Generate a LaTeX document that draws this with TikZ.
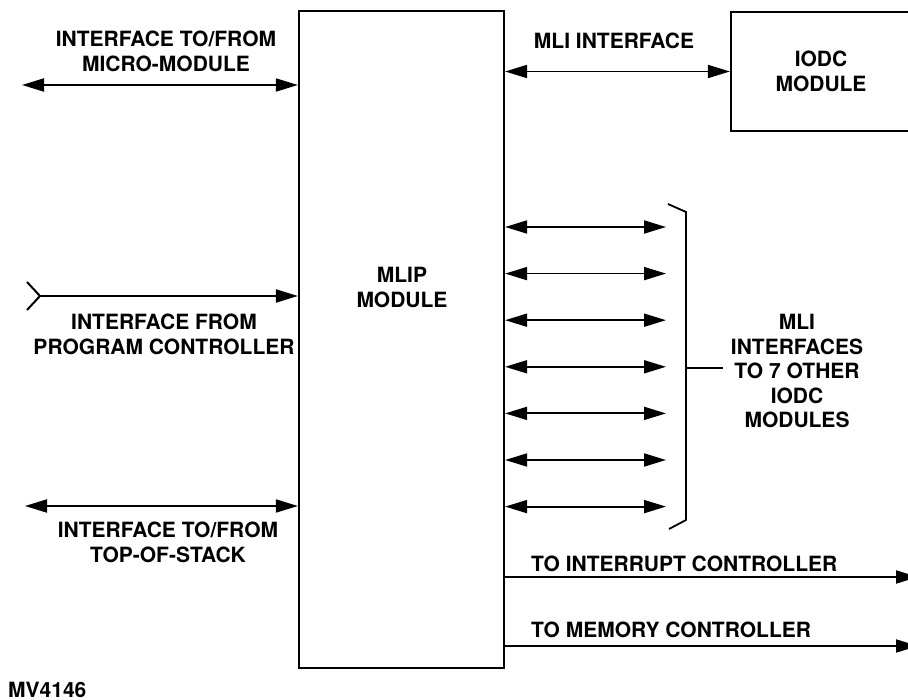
\documentclass[tikz,border=0pt]{standalone}
\usepackage{fontspec}
\setmainfont{TeX Gyre Heros}
\usetikzlibrary{arrows.meta,positioning,calc}

\begin{document}
\begin{tikzpicture}[x=1pt, y=-1pt,
  box/.style={draw, line width=2.2pt, inner sep=0pt},
  biarr/.style={{Triangle[length=22pt,width=13pt]}-{Triangle[length=22pt,width=13pt]}, line width=1.8pt},
  arr/.style={-{Triangle[length=22pt,width=13pt]}, line width=1.8pt},
  lab/.style={font=\fontsize{21}{25}\selectfont\bfseries, align=center, inner sep=0pt}
]
\useasboundingbox (0,0) rectangle (908,700);
% modules
\node[box, minimum width=205pt, minimum height=657pt] (mlip) at (401.5,339.5) {};
\node[lab] (mliptxt) at (402,287) {MLIP\\MODULE};
\node[box, lab, minimum width=180pt, minimum height=119pt] (iodc) at (821,71.5) {IODC\\MODULE};
% left side interfaces
\coordinate (mmL) at (22,85);
\coordinate (pcL) at (26,296);
\coordinate (tsL) at (25,506);
\draw[biarr] (mmL) -- (mmL -| mlip.west);
\draw[{Straight Barb[reversed,length=13pt,width=28pt]}-{Triangle[length=22pt,width=13pt]}, line width=2pt] (pcL) -- (pcL -| mlip.west);
\draw[biarr] (tsL) -- (tsL -| mlip.west);
\node[lab] (mmtxt) at (166,51) {INTERFACE TO/FROM\\MICRO-MODULE};
\node[lab] (pctxt) at (164,334.5) {INTERFACE FROM\\PROGRAM CONTROLLER};
\node[lab] (tstxt) at (168,542.5) {INTERFACE TO/FROM\\TOP-OF-STACK};
% MLI interfaces
\draw[biarr] (mlip.east |- iodc.west) -- (iodc.west);
\node[lab] (mlitxt) at (614,41) {MLI INTERFACE};
\foreach \i in {0,...,6} {
  \coordinate (mli\i) at (666,{227+46.6*\i});
  \draw[biarr] (mli\i -| mlip.east) -- (mli\i);
}
\draw[line width=1.8pt] (668,204) -- (686,212) -- (686,520) -- (669,529);
\coordinate (brk) at (686,368);
\node[lab, font=\fontsize{21}{24.5}\selectfont\bfseries] (othtxt) at (797,371) {MLI\\INTERFACES\\TO 7 OTHER\\IODC\\MODULES};
\draw[line width=1.8pt] (brk) -- (brk -| 723,0);
% controllers
\coordinate (intR) at (918,577);
\coordinate (memR) at (918,646);
\draw[arr] (intR -| mlip.east) -- (intR);
\draw[arr] (memR -| mlip.east) -- (memR);
\node[lab, anchor=west] (inttxt) at (531,564) {TO INTERRUPT CONTROLLER};
\node[lab, anchor=west] (memtxt) at (531,630) {TO MEMORY CONTROLLER};
\node[lab, anchor=base west] (figno) at (8,697) {MV4146};
\end{tikzpicture}
\end{document}
